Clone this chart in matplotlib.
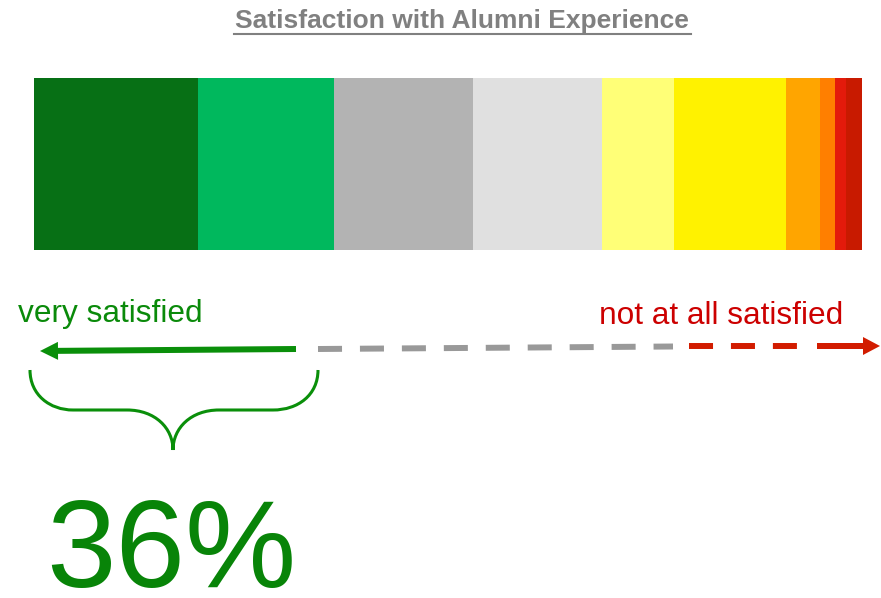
import matplotlib.pyplot as plt
from matplotlib.path import Path
from matplotlib.patches import PathPatch

plt.rcParams['font.family'] = ['Liberation Sans', 'DejaVu Sans']
plt.rcParams['lines.scale_dashes'] = False

# share of responses per answer level, from "very satisfied" to "not at all satisfied"
shares = [19.8, 16.4, 16.8, 15.5, 8.7, 13.5, 4.1, 1.9, 1.3, 1.9]
colors = ['#077015', '#00B85D', '#B3B3B3', '#E0E0E0', '#FFFF77',
          '#FFF200', '#FFA500', '#FF7F00', '#E31A0B', '#C81A00']
top_share = "36%"
title = "Satisfaction with Alumni Experience"

W, H = 881, 598
fig = plt.figure(figsize=(W / 100, H / 100), dpi=100)

# stacked bar
ax = fig.add_axes([34 / W, 1 - 250 / H, 828 / W, 172 / H])
left = 0
for s, c in zip(shares, colors):
    ax.barh(0, s, left=left, height=1, color=c, edgecolor='none')
    left += s
ax.set_xlim(0, sum(shares))
ax.set_ylim(-0.5, 0.5)
ax.axis('off')

# overlay in pixel coordinates for the annotations
ov = fig.add_axes([0, 0, 1, 1])
ov.set_xlim(0, W)
ov.set_ylim(H, 0)
ov.axis('off')

ov.text(462, 21, title, ha='center', va='center', fontsize=19,
        fontweight='bold', color='#808080')
ov.plot([234, 691], [34, 34], color='#808080', lw=1.5)

green = '#0A8F0A'
red = '#D21C00'
ov.text(18, 314, "very satisfied", ha='left', va='center', fontsize=22.8, color='#0A8A0A')
ov.text(843, 316, "not at all satisfied", ha='right', va='center', fontsize=22.8, color='#CC0000')

# arrows
ov.arrow(296, 349, 40 - 296, 2, width=6, head_width=18, head_length=18,
         length_includes_head=True, color=green, lw=0)
ov.plot([318, 673], [349, 346.5], color='#999999', lw=4.3,
        dashes=[17.3, 12.9], dash_capstyle='butt')
ov.plot([689, 800], [346, 346], color=red, lw=4.3,
        dashes=[17.3, 12.9], dash_capstyle='butt')
ov.arrow(817, 346, 880 - 817, 0, width=6, head_width=18, head_length=17,
         length_includes_head=True, color=red, lw=0)

# brace under the "very satisfied" part
verts = [(30, 370), (30, 395), (50, 410), (73, 410),
         (127, 410),
         (155, 410), (173, 428), (173, 450),
         (173, 428), (191, 410), (219, 410),
         (273, 410),
         (298, 410), (318, 395), (318, 370)]
codes = [Path.MOVETO, Path.CURVE4, Path.CURVE4, Path.CURVE4,
         Path.LINETO,
         Path.CURVE4, Path.CURVE4, Path.CURVE4,
         Path.CURVE4, Path.CURVE4, Path.CURVE4,
         Path.LINETO,
         Path.CURVE4, Path.CURVE4, Path.CURVE4]
ov.add_patch(PathPatch(Path(verts, codes), fill=False, edgecolor=green, lw=2.2))

ov.text(171, 587, top_share, ha='center', va='baseline', fontsize=90, color='#088408')

fig.savefig('out.png', dpi=100)
